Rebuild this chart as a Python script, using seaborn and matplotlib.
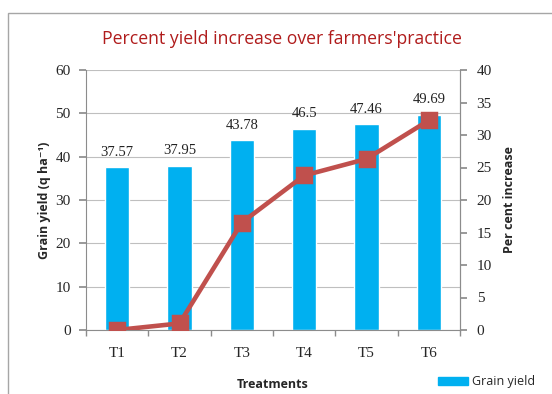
import matplotlib
matplotlib.use("Agg")
import matplotlib.pyplot as plt
import seaborn as sns
from matplotlib.patches import Patch, Rectangle

treatments = ["T1", "T2", "T3", "T4", "T5", "T6"]
grain_yield = [37.57, 37.95, 43.78, 46.5, 47.46, 49.69]
pct_increase = [0.0, 1.01, 16.53, 23.77, 26.32, 32.26]
left_ticks = [0, 10, 20, 30, 40, 50, 60]
right_ticks = [0, 5, 10, 15, 20, 25, 30, 35, 40]

sns.set_theme(style="white")
plt.rcParams["font.family"] = ["Open Sans", "DejaVu Sans"]

BAR = "#00B0F0"
LINE = "#C0504D"
GRID = "#BFBFBF"
AXC = "#8C8C8C"
SERIF = "Liberation Serif"

W, H = 552, 394
fig = plt.figure(figsize=(W/100, H/100), dpi=100)
fig.patches.append(Rectangle((8/W, -0.1), 1.2, 1 - 13/H + 0.1, transform=fig.transFigure,
                             fill=False, edgecolor="#A6A6A6", linewidth=1.0))
ax = fig.add_axes([86/W, 1 - 330/H, (460 - 86)/W, 260/H])

sns.barplot(x=treatments, y=grain_yield, ax=ax, color=BAR, width=0.39,
            saturation=1, errorbar=None, zorder=2)
ax.set_ylim(0, 60)
ax.set_yticks(left_ticks)
ax.set_xlim(-0.5, 5.5)
ax.yaxis.grid(True, color=GRID, linewidth=0.8, zorder=0)
ax.set_axisbelow(True)
ax.bar_label(ax.containers[0], labels=[f"{v:g}" for v in grain_yield],
             padding=6, fontsize=10.5, family=SERIF, color="#222222")
ax.spines["top"].set_visible(False)
for s in ["left", "right", "bottom"]:
    ax.spines[s].set_color(AXC)
    ax.spines[s].set_linewidth(0.8)
ax.tick_params(axis="y", which="major", length=5, color=AXC, left=True,
               labelsize=11, pad=6)
ax.tick_params(axis="x", which="major", length=0, labelsize=11, pad=12)
ax.set_xticks([i + 0.5 for i in range(-1, 6)], minor=True)
ax.tick_params(axis="x", which="minor", length=4, color=AXC, bottom=True)
for lab in ax.get_yticklabels() + ax.get_xticklabels():
    lab.set_family(SERIF)
ax.set_ylabel("Grain yield (q ha\u207b\u00b9)", fontsize=9, fontweight="bold", labelpad=3)
ax.set_xlabel("Treatments", fontsize=9, fontweight="bold", labelpad=13)

ax2 = ax.twinx()
sns.pointplot(x=treatments, y=pct_increase, ax=ax2, color=LINE, markers="s",
              errorbar=None, markersize=10, linewidth=3.3)
ax2.set_ylim(0, 40)
ax2.set_yticks(right_ticks)
ax2.set_xlim(-0.5, 5.5)
for s in ["top", "left", "bottom"]:
    ax2.spines[s].set_visible(False)
ax2.spines["right"].set_color(AXC)
ax2.spines["right"].set_linewidth(0.8)
ax2.tick_params(axis="y", length=5, color=AXC, right=True, labelsize=11, pad=7)
for lab in ax2.get_yticklabels():
    lab.set_family(SERIF)
ax2.set_ylabel("Per cent increase", fontsize=9, fontweight="bold", labelpad=8)
ax2.grid(False)

fig.text(282/W, 1 - 39/H, "Percent yield increase over farmers'practice",
         ha="center", va="center", fontsize=12.7, color="#B01C1C")

fig.legend(handles=[Patch(color=BAR, label="Grain yield")], loc="center left",
           bbox_to_anchor=(438/W, 1 - 382/H), frameon=False, fontsize=9,
           handlelength=2.4, handleheight=0.6, handletextpad=0.3,
           borderpad=0, borderaxespad=0)

fig.savefig("out.png", dpi=100)
